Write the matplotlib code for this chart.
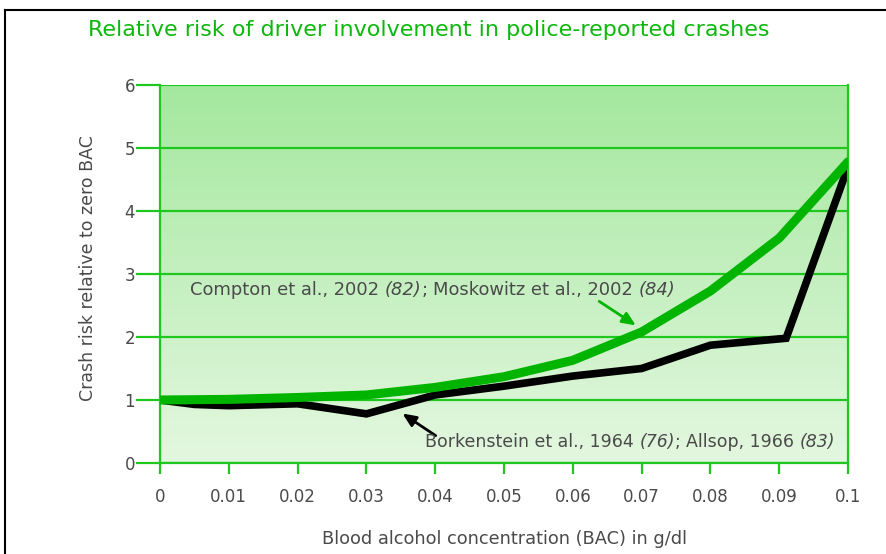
import matplotlib.pyplot as plt
import numpy as np
from matplotlib.lines import Line2D
from matplotlib.offsetbox import TextArea, HPacker, AnnotationBbox

# data
bac = [0, 0.01, 0.02, 0.03, 0.04, 0.05, 0.06, 0.07, 0.08, 0.09, 0.1]
compton = [1.0, 1.01, 1.04, 1.08, 1.2, 1.37, 1.63, 2.08, 2.73, 3.57, 4.78]
bork_x = [0, 0.005, 0.01, 0.02, 0.03, 0.04, 0.05, 0.06, 0.07, 0.08, 0.091, 0.1]
bork_y = [1.0, 0.93, 0.91, 0.94, 0.78, 1.08, 1.22, 1.38, 1.5, 1.87, 1.98, 4.7]

xticks = [0, 0.01, 0.02, 0.03, 0.04, 0.05, 0.06, 0.07, 0.08, 0.09, 0.1]
xticklabels = ['0', '0.01', '0.02', '0.03', '0.04', '0.05', '0.06', '0.07', '0.08', '0.09', '0.1']
yticks = [0, 1, 2, 3, 4, 5, 6]

green = '#00b400'
grid_green = '#1ec81e'
txt = '#4a4a4a'
plt.rcParams['font.family'] = ['DejaVu Sans']

fig = plt.figure(figsize=(8.86, 5.54), dpi=100)
ax = fig.add_axes([160/886, 1 - 463/554, 688/886, 378/554])

# gradient background
grad = np.linspace(0, 1, 256).reshape(-1, 1)
top = np.array([164, 232, 158]) / 255
bot = np.array([228, 247, 224]) / 255
img = top[None, None, :] * (1 - grad[:, :, None]) + bot[None, None, :] * grad[:, :, None]
ax.imshow(img, extent=[0, 0.1, 0, 6], aspect='auto', origin='upper', zorder=0)

for y in yticks:
    ax.axhline(y, color=grid_green, lw=1.6, zorder=1)

ax.plot(bac, compton, color=green, lw=6.5, solid_capstyle='round', zorder=3)
ax.plot(bork_x, bork_y, color='black', lw=5.5, solid_joinstyle='miter', zorder=2)

ax.set_xlim(0, 0.1)
ax.set_ylim(0, 6)
ax.set_xticks(xticks)
ax.set_xticklabels(xticklabels)
ax.set_yticks(yticks)
ax.tick_params(axis='x', colors=grid_green, length=8, width=1.6, labelcolor=txt, labelsize=12, pad=10)
ax.tick_params(axis='y', colors=grid_green, length=17, width=1.6, labelcolor=txt, labelsize=12, pad=1)
for s in ['left', 'right', 'bottom']:
    ax.spines[s].set_color(grid_green)
    ax.spines[s].set_linewidth(1.6)
ax.spines['top'].set_visible(False)

ax.set_xlabel('Blood alcohol concentration (BAC) in g/dl', color=txt, fontsize=12.8, labelpad=17)
ax.set_ylabel('Crash risk relative to zero BAC', color=txt, fontsize=12.5, labelpad=12)
ax.yaxis.set_label_coords(-0.092, 0.515)


def mixed_label(words, xy, size):
    # words: list of word groups; each group is a list of (text, italic?) glued together
    groups = []
    for grp in words:
        kids = [TextArea(t, textprops=dict(color=txt, fontsize=size,
                                           style='italic' if it else 'normal'))
                for t, it in grp]
        groups.append(HPacker(children=kids, align='baseline', pad=0, sep=0))
    pack = HPacker(children=groups, align='baseline', pad=0, sep=4)
    ab = AnnotationBbox(pack, xy, xycoords='data', box_alignment=(0, 0.5),
                        frameon=False, pad=0, zorder=5)
    ax.add_artist(ab)


# annotations
ax.annotate('', xy=(0.0695, 2.16), xytext=(0.0635, 2.59),
            arrowprops=dict(arrowstyle='-|>,head_length=0.8,head_width=0.35', color=green, lw=2), zorder=4)
mixed_label([[('Compton et al., 2002', False)], [('(82)', True), (';', False)],
             [('Moskowitz et al., 2002', False)], [('(84)', True)]], (0.0044, 2.75), 12.9)
ax.annotate('', xy=(0.0349, 0.81), xytext=(0.0404, 0.41),
            arrowprops=dict(arrowstyle='-|>,head_length=0.8,head_width=0.35', color='black', lw=2), zorder=4)
mixed_label([[('Borkenstein et al., 1964', False)], [('(76)', True), (';', False)],
             [('Allsop, 1966', False)], [('(83)', True)]], (0.0385, 0.33), 12.5)

fig.text(88/886, 1 - 30/554, 'Relative risk of driver involvement in police-reported crashes',
         color='#0cb80c', fontsize=16, va='center', ha='left')

# frame around the figure
fig.add_artist(Line2D([5/886, 1], [1 - 10/554, 1 - 10/554], color='black', lw=1.5))
fig.add_artist(Line2D([5/886, 5/886], [0, 1 - 10/554], color='black', lw=1.5))

fig.savefig('out.png', dpi=100)
